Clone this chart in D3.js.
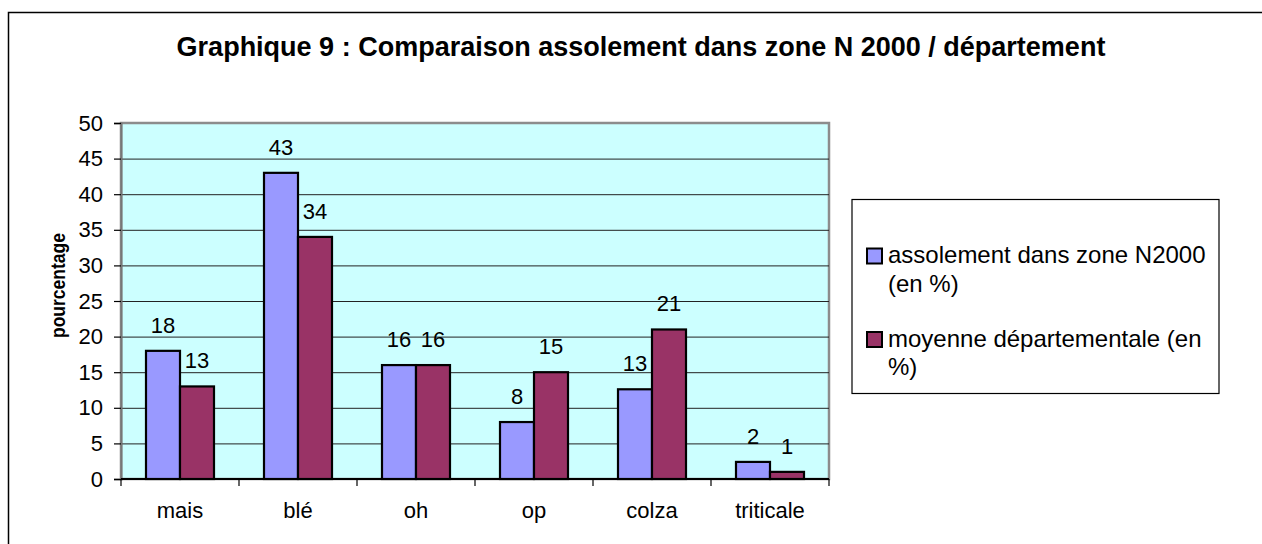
<!DOCTYPE html>
<html>
<head>
<meta charset="utf-8">
<script src="https://cdnjs.cloudflare.com/ajax/libs/d3/7.8.5/d3.min.js"></script>
<style>
    body { margin: 0; background: #fff; }
    svg text { font-family: "Liberation Sans", Arial, sans-serif; fill: #000; }
</style>
</head>
<body>
<div id="chart"></div>
<script>
const categories = ["mais", "blé", "oh", "op", "colza", "triticale"];
const seriesNames = [
    ["assolement dans zone N2000", "(en %)"],
    ["moyenne départementale (en", "%)"]
];
const zoneN2000 = [18, 43, 16, 8, 12.6, 2.4];
const moyenneDept = [13, 34, 16, 15, 21, 1];
const yTicks = [0, 5, 10, 15, 20, 25, 30, 35, 40, 45, 50];
const title = "Graphique 9 : Comparaison assolement dans zone N 2000 / département";
const yTitle = "pourcentage";

const colors = ["#9999FF", "#993366"];

// table built from the arrays
const data = categories.map((c, i) => ({ cat: c, values: [zoneN2000[i], moyenneDept[i]] }));

const W = 1262, H = 544;
const plot = { left: 121, top: 123, right: 829, bottom: 479 };

const svg = d3.select("#chart").append("svg")
    .attr("width", W)
    .attr("height", H);

// outer chart frame (right and bottom fall outside the picture)
svg.append("rect")
    .attr("x", 8.5).attr("y", 12.5)
    .attr("width", 1300).attr("height", 600)
    .attr("fill", "#fff")
    .attr("stroke", "#000")
    .attr("stroke-width", 1.5);

// scales
const step = (plot.right - plot.left) / categories.length;
const gap = 50 / 118;
const x = d3.scaleBand()
    .domain(categories)
    .range([plot.left, plot.right])
    .paddingInner(gap)
    .paddingOuter(gap / 2);

const xSeries = d3.scaleBand()
    .domain([0, 1])
    .range([0, x.bandwidth()]);

const y = d3.scaleLinear()
    .domain([0, 50])
    .range([plot.bottom, plot.top]);

// plot background
svg.append("rect")
    .attr("x", plot.left).attr("y", plot.top)
    .attr("width", plot.right - plot.left)
    .attr("height", plot.bottom - plot.top)
    .attr("fill", "#CCFFFF")
    .attr("stroke", "#8c8c8c")
    .attr("stroke-width", 2.5);

// gridlines
svg.append("g")
    .attr("transform", `translate(${plot.left},0)`)
    .call(d3.axisLeft(y).tickValues(yTicks.slice(1, -1)).tickSize(-(plot.right - plot.left)).tickFormat(""))
    .call(g => g.select(".domain").remove())
    .call(g => g.selectAll("line").attr("stroke", "#222").attr("stroke-width", 1));

// y axis
const yAxis = svg.append("g")
    .attr("transform", `translate(${plot.left},0)`)
    .call(d3.axisLeft(y).tickValues(yTicks).tickSize(7).tickPadding(11));
yAxis.select(".domain").attr("stroke", "#777").attr("stroke-width", 2);
yAxis.selectAll(".tick line").attr("stroke", "#000").attr("stroke-width", 1.2);
yAxis.selectAll(".tick text").attr("font-size", 22).style("font-family", "'Liberation Sans', Arial, sans-serif");

// bars
const groups = svg.append("g").selectAll("g")
    .data(data)
    .join("g")
    .attr("transform", d => `translate(${x(d.cat)},0)`);

groups.selectAll("rect")
    .data(d => d.values.map((v, i) => ({ v, i })))
    .join("rect")
    .attr("x", d => xSeries(d.i))
    .attr("y", d => y(d.v))
    .attr("width", xSeries.bandwidth())
    .attr("height", d => y(0) - y(d.v))
    .attr("fill", d => colors[d.i])
    .attr("stroke", "#000")
    .attr("stroke-width", 2.2);

// value labels
groups.selectAll("text")
    .data(d => d.values.map((v, i) => ({ v, i })))
    .join("text")
    .attr("x", d => xSeries(d.i) + xSeries.bandwidth() / 2)
    .attr("y", d => y(d.v) - 18)
    .attr("text-anchor", "middle")
    .attr("font-size", 22)
    .text(d => d3.format(".0f")(d.v));

// x axis: ticks on the category boundaries
const boundaries = categories.map(c => x(c) - (step - x.bandwidth()) / 2).concat([plot.right]);
const xAxis = svg.append("g")
    .attr("transform", `translate(0,${plot.bottom})`);
xAxis.append("line")
    .attr("x1", plot.left).attr("x2", plot.right)
    .attr("stroke", "#000").attr("stroke-width", 2);
xAxis.selectAll(".bt")
    .data(boundaries)
    .join("line")
    .attr("class", "bt")
    .attr("x1", d => d).attr("x2", d => d)
    .attr("y1", 0).attr("y2", 7)
    .attr("stroke", "#000").attr("stroke-width", 1.2);
xAxis.selectAll(".lab")
    .data(categories)
    .join("text")
    .attr("class", "lab")
    .attr("x", d => x(d) + x.bandwidth() / 2)
    .attr("y", 39)
    .attr("text-anchor", "middle")
    .attr("font-size", 22)
    .text(d => d);

// title
svg.append("text")
    .attr("x", 641)
    .attr("y", 56)
    .attr("text-anchor", "middle")
    .attr("font-size", 27)
    .attr("font-weight", "bold")
    .text(title);

// y axis title
svg.append("text")
    .attr("transform", "translate(65,285.5) rotate(-90)")
    .attr("text-anchor", "middle")
    .attr("font-size", 21)
    .attr("font-weight", "bold")
    .attr("textLength", 105)
    .attr("lengthAdjust", "spacingAndGlyphs")
    .text(yTitle);

// legend
const legend = svg.append("g");
legend.append("rect")
    .attr("x", 852).attr("y", 199.5)
    .attr("width", 367).attr("height", 194)
    .attr("fill", "#fff")
    .attr("stroke", "#000")
    .attr("stroke-width", 1.2);

const items = legend.selectAll(".item")
    .data(seriesNames)
    .join("g")
    .attr("class", "item")
    .attr("transform", (d, i) => `translate(0,${i * 83.5})`);
items.append("rect")
    .attr("x", 867).attr("y", 248.5)
    .attr("width", 15).attr("height", 15)
    .attr("fill", (d, i) => colors[i])
    .attr("stroke", "#000")
    .attr("stroke-width", 2);
items.append("text")
    .attr("font-size", 24)
    .selectAll("tspan")
    .data(d => d)
    .join("tspan")
    .attr("x", 888)
    .attr("y", (d, j) => 263 + j * 28.5)
    .text(d => d);
</script>
</body>
</html>
